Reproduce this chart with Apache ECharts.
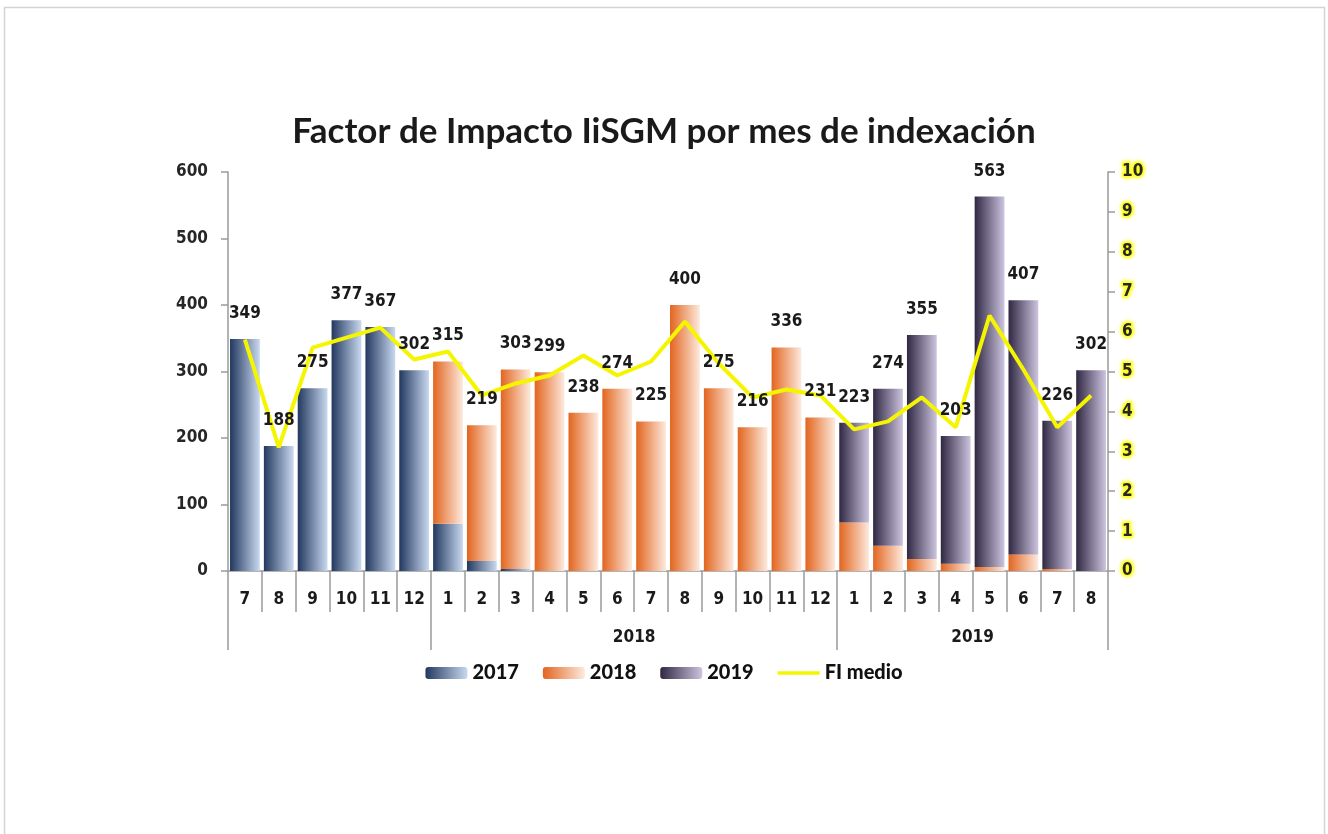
<!DOCTYPE html>
<html>
<head>
<meta charset="utf-8">
<script src="https://cdn.jsdelivr.net/npm/echarts@6/dist/echarts.min.js"></script>
<style>
html,body{margin:0;padding:0;background:#fff;}
#chart{width:1328px;height:834px;}
</style>
</head>
<body>
<div id="chart"></div>
<script>
// ---- data ----
var months = ['7','8','9','10','11','12','1','2','3','4','5','6','7','8','9','10','11','12','1','2','3','4','5','6','7','8'];
var groupNames = ['', '2018', '2019'];
var groupSizes = [6, 12, 8];
var s2017 = [349,188,275,377,367,302, 71,15,3,0,0,0,0,0,0,0,0,0, 0,0,0,0,0,0,0,0];
var s2018 = [0,0,0,0,0,0, 244,204,300,299,238,274,225,400,275,216,336,231, 73,38,18,11,6,25,3,0];
var s2019 = [0,0,0,0,0,0, 0,0,0,0,0,0,0,0,0,0,0,0, 150,236,337,192,557,382,223,302];
var totals = [349,188,275,377,367,302, 315,219,303,299,238,274,225,400,275,216,336,231, 223,274,355,203,563,407,226,302];
var fiMedio = [5.8,3.1,5.6,5.85,6.1,5.3, 5.5,4.4,4.7,4.9,5.4,4.9,5.25,6.25,5.2,4.35,4.55,4.4, 3.55,3.75,4.35,3.6,6.4,5.05,3.6,4.4];
var leftTicks = {min:0, max:600, interval:100};
var rightTicks = {min:0, max:10, interval:1};

// ---- group axis helpers (27 boundary points) ----
var boundaryPts = [];
var tickIdx = [0];
var labelIdx = {};
(function(){
  var pos = 0;
  for (var i = 0; i <= months.length; i++) boundaryPts.push('');
  groupSizes.forEach(function(sz, g){
    if (groupNames[g] && sz % 2 === 0) { boundaryPts[pos + sz/2] = groupNames[g]; labelIdx[pos + sz/2] = true; }
    pos += sz;
    tickIdx.push(pos);
  });
})();

function grad(a, b){
  return {type:'linear', x:0, y:0, x2:1, y2:0, colorStops:[{offset:0,color:a},{offset:1,color:b}]};
}
var narrow = '"Liberation Sans Narrow","DejaVu Sans Condensed","Liberation Sans",sans-serif';
var calib = 'Lato,"Open Sans",sans-serif';

var chart = echarts.init(document.getElementById('chart'), null, {renderer:'canvas'});
chart.setOption({
  backgroundColor:'#ffffff',
  animation:false,
  title:{
    text:'Factor de Impacto IiSGM por mes de indexación',
    left:'center', top:109,
    textStyle:{fontFamily:calib, fontWeight:'bold', fontSize:35, color:'#1a1a1a'}
  },
  graphic:[{
    type:'rect', shape:{x:4.5, y:7.5, width:1320, height:840},
    style:{fill:'none', stroke:'#d4d4d4', lineWidth:1.5}, silent:true
  }],
  legend:{
    data:['2017','2018','2019',{name:'FI medio', icon:'path://M0,0L42,0L42,3.5L0,3.5Z'}],
    left:'center', top:658, symbolKeepAspect:true,
    itemWidth:42, itemHeight:12, itemGap:24,
    textStyle:{fontFamily:calib, fontWeight:900, fontSize:20, color:'#111111'}
  },
  grid:{left:228, right:220, top:172, bottom:263, containLabel:false},
  xAxis:[{
    type:'category', data:months, position:'bottom', offset:0,
    axisLine:{show:true, lineStyle:{color:'#9a9a9a', width:1.5}},
    axisTick:{show:true, interval:0, length:41, lineStyle:{color:'#9a9a9a', width:1.5}},
    axisLabel:{interval:0, margin:20, fontFamily:narrow, fontWeight:'bold', fontSize:17, color:'#1a1a1a'}
  },{
    type:'category', data:boundaryPts, boundaryGap:false, position:'bottom', offset:0,
    axisLine:{show:false},
    axisTick:{show:true, length:79, interval:function(i){return tickIdx.indexOf(i) >= 0;}, lineStyle:{color:'#9a9a9a', width:1.5}},
    axisLabel:{interval:function(i){return !!labelIdx[i];}, margin:58, fontFamily:narrow, fontWeight:'bold', fontSize:17, color:'#1a1a1a'}
  }],
  yAxis:[{
    type:'value', min:leftTicks.min, max:leftTicks.max, interval:leftTicks.interval, position:'left',
    axisLine:{show:true, lineStyle:{color:'#9a9a9a', width:1.5}},
    axisTick:{show:true, length:7, lineStyle:{color:'#9a9a9a', width:1.5}},
    splitLine:{show:false},
    axisLabel:{margin:20, fontFamily:narrow, fontWeight:'bold', fontSize:17, color:'#262626'}
  },{
    type:'value', min:rightTicks.min, max:rightTicks.max, interval:rightTicks.interval, position:'right',
    axisLine:{show:true, lineStyle:{color:'#9a9a9a', width:1.5}},
    axisTick:{show:true, length:7, lineStyle:{color:'#9a9a9a', width:1.5}},
    splitLine:{show:false},
    axisLabel:{margin:14, fontFamily:narrow, fontWeight:'bold', fontSize:17, color:'#262626',
      textBorderColor:'#ffff40', textBorderWidth:3, textShadowColor:'#ffff00', textShadowBlur:4}
  }],
  series:[{
    name:'2017', type:'bar', stack:'m', data:s2017, barCategoryGap:'12%',
    itemStyle:{color:grad('#22385f','#c9d9f0')}
  },{
    name:'2018', type:'bar', stack:'m', data:s2018, barCategoryGap:'12%',
    itemStyle:{color:grad('#e2651f','#fdeade')}
  },{
    name:'2019', type:'bar', stack:'m', data:s2019, barCategoryGap:'12%',
    itemStyle:{color:grad('#302843','#cdc5df')}
  },{
    name:'total', type:'bar', data:totals, barGap:'-100%', barCategoryGap:'12%', silent:true, z:5,
    itemStyle:{color:'rgba(0,0,0,0)'},
    label:{show:true, position:'top', distance:17, fontFamily:narrow, fontWeight:'bold', fontSize:17, color:'#1a1a1a'}
  },{
    name:'FI medio', type:'line', yAxisIndex:1, data:fiMedio, symbol:'none', z:4,
    itemStyle:{color:'#f5f500'},
    lineStyle:{color:'#f5f500', width:4}
  }]
});
</script>
</body>
</html>
